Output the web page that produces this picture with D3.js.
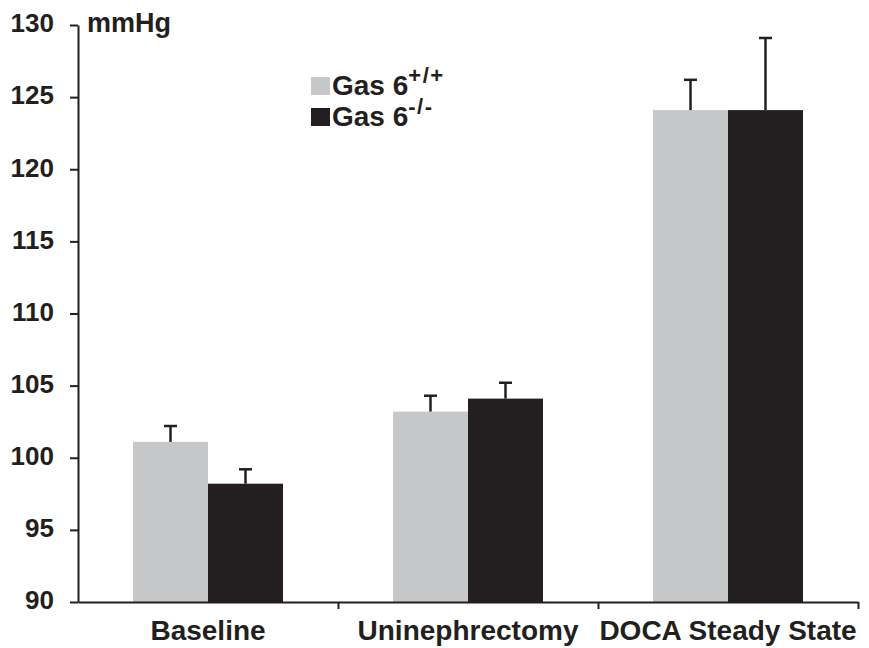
<!DOCTYPE html>
<html>
<head>
<meta charset="utf-8">
<script src="https://cdn.jsdelivr.net/npm/d3@7"></script>
<style>
  html, body { margin: 0; padding: 0; background: #fff; }
  svg { display: block; font-family: "Liberation Sans", Arial, sans-serif; font-weight: bold; }
</style>
</head>
<body>
<svg id="chart" width="869" height="648"></svg>
<script>
const categories = ["Baseline", "Uninephrectomy", "DOCA Steady State"];
const seriesNames = ["wt", "ko"];
const wtValues = [101.1, 103.2, 124.1];
const wtErrors = [1.1, 1.1, 2.1];
const koValues = [98.2, 104.1, 124.1];
const koErrors = [1.0, 1.1, 5.0];
const yTicks = [90, 95, 100, 105, 110, 115, 120, 125, 130];

const ink = "#231f20";
const colors = { wt: "#c6c7c9", ko: "#231f20" };

const svg = d3.select("#chart");
const mLeft = 78, mRight = 858, mTop = 25, mBottom = 602;

const x = d3.scaleBand().domain(categories).range([mLeft, mRight]).padding(0);
const xInner = d3.scaleBand().domain(seriesNames).range([55, 205]).padding(0);
const y = d3.scaleLinear().domain([90, 130]).range([mBottom, mTop]);

const rows = [];
categories.forEach((c, i) => {
  rows.push({ cat: c, s: "wt", v: wtValues[i], e: wtErrors[i] });
  rows.push({ cat: c, s: "ko", v: koValues[i], e: koErrors[i] });
});

// bars
svg.append("g").selectAll("rect").data(rows).join("rect")
  .attr("x", d => x(d.cat) + xInner(d.s))
  .attr("width", xInner.bandwidth())
  .attr("y", d => y(d.v))
  .attr("height", d => y(90) - y(d.v))
  .attr("fill", d => colors[d.s]);

// error bars (upper only)
const eb = svg.append("g").attr("stroke", ink).attr("stroke-width", 2.5);
rows.forEach(d => {
  const cx = x(d.cat) + xInner(d.s) + xInner.bandwidth() / 2;
  eb.append("line").attr("x1", cx).attr("x2", cx).attr("y1", y(d.v)).attr("y2", y(d.v + d.e));
  eb.append("line").attr("x1", cx - 6.5).attr("x2", cx + 6.5).attr("y1", y(d.v + d.e)).attr("y2", y(d.v + d.e));
});

// y axis
const yAxis = svg.append("g").attr("transform", `translate(${mLeft},0)`)
  .call(d3.axisLeft(y).tickValues(yTicks).tickSize(8).tickPadding(16).tickSizeOuter(0));
yAxis.select(".domain").attr("stroke", ink).attr("stroke-width", 2);
yAxis.selectAll(".tick line").attr("stroke", ink).attr("stroke-width", 2);
yAxis.selectAll(".tick text").attr("fill", ink).attr("font-size", 26).attr("font-family", "Liberation Sans, Arial, sans-serif").attr("font-weight", "bold").attr("dy", "0.26em");

// x axis: line + boundary ticks
const xb = d3.scaleLinear().domain([0, categories.length]).range([mLeft, mRight]);
const xAxis = svg.append("g").attr("transform", `translate(0,${mBottom})`)
  .call(d3.axisBottom(xb).tickValues(d3.range(1, categories.length + 1)).tickSize(7).tickSizeOuter(0).tickFormat(""));
xAxis.select(".domain").attr("stroke", ink).attr("stroke-width", 2);
xAxis.selectAll(".tick line").attr("stroke", ink).attr("stroke-width", 2);

// category labels
const xl = svg.append("g").attr("transform", `translate(0,${mBottom})`)
  .call(d3.axisBottom(x).tickSize(0).tickPadding(0));
xl.select(".domain").remove();
xl.selectAll(".tick text").attr("fill", ink).attr("font-size", 28).attr("font-family", "Liberation Sans, Arial, sans-serif").attr("font-weight", "bold").attr("y", 38).attr("dy", 0);

// unit label
svg.append("text").attr("x", 87).attr("y", 32).attr("fill", ink).attr("font-size", 27).text("mmHg");

// legend
const legend = [
  { key: "wt", sup: "+/+" },
  { key: "ko", sup: "-/-" }
];
const lg = svg.append("g");
legend.forEach((l, i) => {
  const by = 95 + i * 31;
  lg.append("rect").attr("x", 311).attr("y", by - 18).attr("width", 19).attr("height", 18).attr("fill", colors[l.key]);
  const t = lg.append("text").attr("x", 332).attr("y", by).attr("fill", ink).attr("font-size", 28);
  t.append("tspan").text("Gas 6");
  t.append("tspan").attr("font-size", 22).attr("letter-spacing", 1.5).attr("dy", -12).text(l.sup);
});
</script>
</body>
</html>
